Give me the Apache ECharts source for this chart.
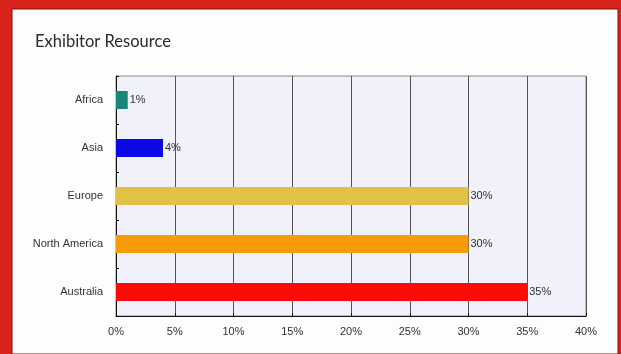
<!DOCTYPE html>
<html>
<head>
<meta charset="utf-8">
<script src="https://cdn.jsdelivr.net/npm/echarts@6/dist/echarts.min.js"></script>
<style>
  html, body { margin: 0; padding: 0; background: #d8221a; }
  #chart { width: 621px; height: 354px; }
</style>
</head>
<body>
<div id="chart"></div>
<script>
// Regions and their share of exhibitors (percent)
const regions = ['Africa', 'Asia', 'Europe', 'North America', 'Australia'];
const shares = [1, 4, 30, 30, 35];
const barColors = ['#17877a', '#0a0ae6', '#e2c246', '#f79b08', '#ff0a0a'];
const xTicks = [0, 5, 10, 15, 20, 25, 30, 35, 40];

const chart = echarts.init(document.getElementById('chart'));

const labelFont = { fontFamily: 'Liberation Sans, Arial, sans-serif', fontSize: 11, color: '#333' };

chart.setOption({
  backgroundColor: '#d8221a',
  animation: false,
  title: {
    text: 'Exhibitor Resource',
    left: 30,
    top: 28,
    textStyle: { fontFamily: 'Lato, Open Sans, sans-serif', fontSize: 16.5, fontWeight: 'normal', color: '#2a2a2a' }
  },
  graphic: [
    // white card over the red frame
    { type: 'rect', z: -10, shape: { x: 12, y: 9, width: 606, height: 345 }, style: { fill: '#fdfdfd', stroke: '#7a1208', lineWidth: 1 } },
    // plot border (top and right)
    { type: 'rect', z: -5, shape: { x: 116, y: 76, width: 470, height: 240 }, style: { fill: '#f0f1fa', stroke: '#8a8a8a', lineWidth: 1 } }
  ],
  grid: { left: 116, right: 35, top: 76, bottom: 38 },
  xAxis: {
    type: 'value',
    min: xTicks[0],
    max: xTicks[xTicks.length - 1],
    interval: 5,
    axisLine: { show: true, lineStyle: { color: '#111', width: 1 } },
    axisTick: { show: true, inside: true, length: 3, lineStyle: { color: '#111' } },
    splitLine: { show: true, lineStyle: { color: '#555', width: 1 } },
    axisLabel: Object.assign({ formatter: v => v + '%', margin: 10 }, labelFont)
  },
  yAxis: {
    type: 'category',
    data: regions,
    inverse: true,
    axisLine: { show: true, lineStyle: { color: '#111', width: 1 } },
    axisTick: { show: true, inside: true, length: 3, lineStyle: { color: '#111' } },
    axisLabel: Object.assign({ margin: 13 }, labelFont)
  },
  series: [{
    type: 'bar',
    barWidth: 18,
    data: shares.map((v, i) => ({ value: v, itemStyle: { color: barColors[i] } })),
    label: {
      show: true,
      position: 'right',
      distance: 2,
      formatter: p => p.value + '%',
      fontFamily: 'Liberation Sans, Arial, sans-serif',
      fontSize: 11,
      color: '#333'
    }
  }]
});
</script>
</body>
</html>
